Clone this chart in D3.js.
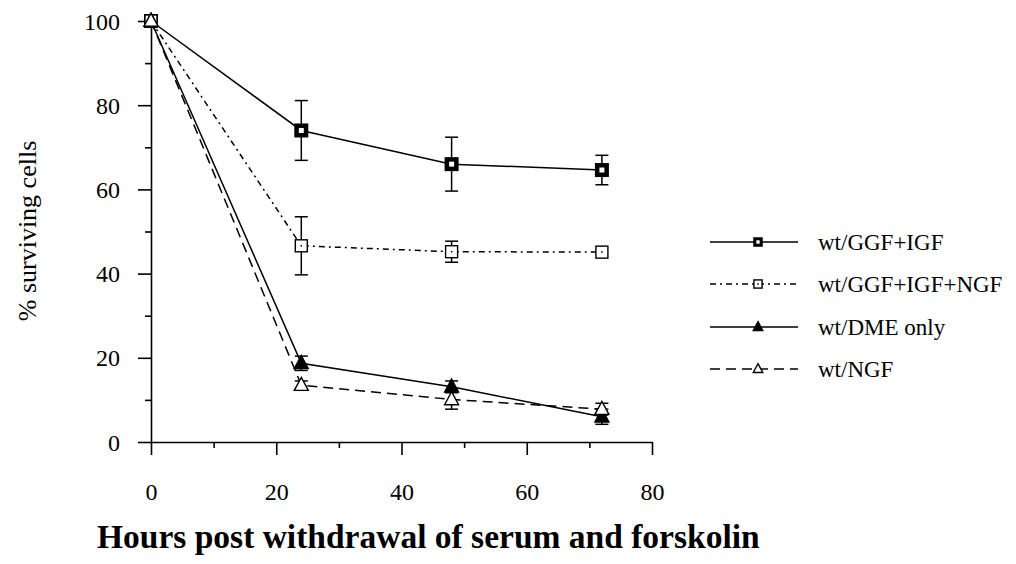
<!DOCTYPE html>
<html>
<head>
<meta charset="utf-8">
<script src="https://cdn.jsdelivr.net/npm/d3@7"></script>
<style>
  html, body { margin: 0; padding: 0; background: #fff; }
  svg { display: block; }
  text { font-family: "Liberation Serif", "Times New Roman", serif; fill: #000; }
</style>
</head>
<body>
<svg id="chart" width="1016" height="564" font-family="Liberation Serif"></svg>
<script>
// Time points (hours after withdrawal)
const hours = [0, 24, 48, 72];

// Percent surviving cells, with error bar half-widths
const ggfIgf       = [100, 74.0, 66.0, 64.6];
const ggfIgfErr    = [0, 7.1, 6.4, 3.5];
const ggfIgfNgf    = [100, 46.6, 45.2, 45.1];
const ggfIgfNgfErr = [0, 6.9, 2.5, 0];
const dmeOnly      = [100, 18.7, 13.1, 6.0];
const dmeOnlyErr   = [0, 1.7, 1.4, 1.8];
const ngf          = [100, 13.5, 10.1, 7.8];
const ngfErr       = [0, 1.0, 2.3, 1.4];

const seriesNames = ["wt/GGF+IGF", "wt/GGF+IGF+NGF", "wt/DME only", "wt/NGF"];

const xMajorTicks = [0, 20, 40, 60, 80];
const xMinorTicks = [10, 30, 50, 70];
const yMajorTicks = [0, 20, 40, 60, 80, 100];
const yMinorTicks = [10, 30, 50, 70, 90];

const xLabel = "Hours post withdrawal of serum and forskolin";
const yLabel = "% surviving cells";

const series = [
  { name: seriesNames[0], values: ggfIgf,    err: ggfIgfErr,    marker: "squareBold", dash: null },
  { name: seriesNames[1], values: ggfIgfNgf, err: ggfIgfNgfErr, marker: "squareOpen", dash: "6,4,2,4" },
  { name: seriesNames[2], values: dmeOnly,   err: dmeOnlyErr,   marker: "triFilled",  dash: null },
  { name: seriesNames[3], values: ngf,       err: ngfErr,       marker: "triOpen",    dash: "10,6" }
];

const SERIF = "Liberation Serif";
const svg = d3.select("#chart");
const x = d3.scaleLinear().domain([0, 80]).range([151, 652]);
const y = d3.scaleLinear().domain([0, 100]).range([442, 21]);

// ---- Axes ----
function styleAxis(g) {
  g.attr("font-family", SERIF);
  g.select(".domain").attr("stroke", "#000").attr("stroke-width", 1.6);
  g.selectAll(".tick line").attr("stroke", "#000").attr("stroke-width", 1.6);
}

const yAxisG = svg.append("g").attr("transform", `translate(${x(0)},0)`);
yAxisG.call(d3.axisLeft(y).tickValues(yMajorTicks).tickSize(13).tickSizeOuter(0).tickFormat(d3.format("d")))
  .call(styleAxis);
yAxisG.selectAll(".tick text")
  .attr("x", -31).attr("dy", "0.34em")
  .attr("font-size", 24).attr("font-family", SERIF)
  .style("font-size", "24px").style("font-family", SERIF);
const yMinorG = svg.append("g").attr("transform", `translate(${x(0)},0)`);
yMinorG.call(d3.axisLeft(y).tickValues(yMinorTicks).tickSize(6).tickSizeOuter(0).tickFormat(""))
  .call(styleAxis);
yMinorG.select(".domain").remove();

const xAxisG = svg.append("g").attr("transform", `translate(0,${y(0)})`);
xAxisG.call(d3.axisBottom(x).tickValues(xMajorTicks).tickSize(13).tickSizeOuter(0).tickFormat(d3.format("d")))
  .call(styleAxis);
xAxisG.selectAll(".tick text")
  .attr("y", 58).attr("dy", 0)
  .attr("font-size", 24).attr("font-family", SERIF)
  .style("font-size", "24px").style("font-family", SERIF);
const xMinorG = svg.append("g").attr("transform", `translate(0,${y(0)})`);
xMinorG.call(d3.axisBottom(x).tickValues(xMinorTicks).tickSize(6).tickSizeOuter(0).tickFormat(""))
  .call(styleAxis);
xMinorG.select(".domain").remove();

// Axis titles
svg.append("text")
  .attr("transform", "translate(36,231) rotate(-90)")
  .attr("text-anchor", "middle")
  .attr("font-family", SERIF)
  .style("font-size", "26px")
  .text(yLabel);

svg.append("text")
  .attr("x", 97).attr("y", 548)
  .attr("font-family", SERIF)
  .style("font-size", "33.5px").style("font-weight", "bold")
  .text(xLabel);

// ---- Markers ----
function drawMarker(g, type, cx, cy, s) {
  if (type === "squareBold") {
    const w = 14 * s;
    g.append("rect").attr("x", cx - w / 2).attr("y", cy - w / 2).attr("width", w).attr("height", w)
      .attr("fill", "#000");
    const iw = 5 * s;
    g.append("rect").attr("x", cx - iw / 2).attr("y", cy - iw / 2).attr("width", iw).attr("height", iw)
      .attr("fill", "#fff");
  } else if (type === "squareOpen") {
    const w = 12 * s;
    g.append("rect").attr("x", cx - w / 2).attr("y", cy - w / 2).attr("width", w).attr("height", w)
      .attr("fill", "#fff").attr("stroke", "#000").attr("stroke-width", 1.4);
    g.append("rect").attr("x", cx - 0.75).attr("y", cy - 0.75).attr("width", 1.5).attr("height", 1.5)
      .attr("fill", "#000");
  } else if (type === "triFilled" || type === "triOpen") {
    const h = 13 * s, w = 14 * s;
    const pts = [[cx, cy - h * 0.6], [cx + w / 2, cy + h * 0.4], [cx - w / 2, cy + h * 0.4]];
    g.append("path").attr("d", d3.line()(pts) + "Z")
      .attr("fill", type === "triFilled" ? "#000" : "#fff")
      .attr("stroke", "#000").attr("stroke-width", 1.4).attr("stroke-linejoin", "miter");
  }
}

// ---- Series: lines, error bars, markers ----
const line = d3.line().x((d, i) => x(hours[i])).y(d => y(d));

series.forEach(s => {
  svg.append("path")
    .datum(s.values)
    .attr("d", line)
    .attr("fill", "none")
    .attr("stroke", "#000")
    .attr("stroke-width", 1.5)
    .attr("stroke-dasharray", s.dash);
});

series.forEach(s => {
  const g = svg.append("g");
  s.values.forEach((v, i) => {
    const e = s.err[i];
    if (e > 0) {
      const cx = x(hours[i]);
      g.append("line").attr("x1", cx).attr("x2", cx).attr("y1", y(v + e)).attr("y2", y(v - e))
        .attr("stroke", "#000").attr("stroke-width", 1.5);
      [v + e, v - e].forEach(t => {
        g.append("line").attr("x1", cx - 6.5).attr("x2", cx + 6.5).attr("y1", y(t)).attr("y2", y(t))
          .attr("stroke", "#000").attr("stroke-width", 1.5);
      });
    }
  });
});

series.forEach(s => {
  const g = svg.append("g");
  s.values.forEach((v, i) => drawMarker(g, s.marker, x(hours[i]), y(v), 1));
});

// ---- Legend ----
const legendY = [242, 284, 327, 369];
series.forEach((s, i) => {
  const g = svg.append("g");
  const ly = legendY[i];
  g.append("line").attr("x1", 710).attr("x2", 798).attr("y1", ly).attr("y2", ly)
    .attr("stroke", "#000").attr("stroke-width", 1.4).attr("stroke-dasharray", s.dash);
  drawMarker(g, s.marker, 758, ly, 0.68);
  g.append("text").attr("x", 818).attr("y", ly + 8)
    .attr("font-family", SERIF)
    .style("font-size", "23px")
    .text(s.name);
});
</script>
</body>
</html>
